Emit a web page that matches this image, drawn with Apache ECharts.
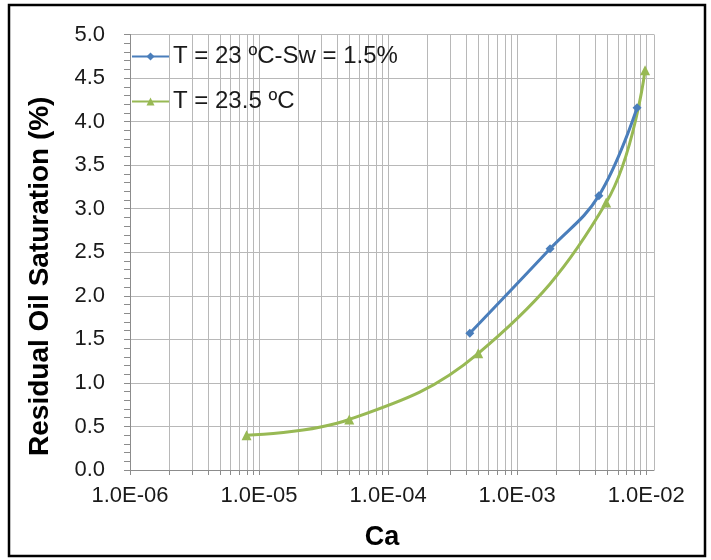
<!DOCTYPE html>
<html>
<head>
<meta charset="utf-8">
<script src="https://cdn.jsdelivr.net/npm/echarts@6/dist/echarts.min.js"></script>
<style>
  html, body { margin: 0; padding: 0; background: #fff; }
  #chart { width: 711px; height: 560px; }
</style>
</head>
<body>
<div id="chart"></div>
<script>
// Residual oil saturation versus capillary number (Ca)
const seriesNames = ['T = 23 \u00baC-Sw = 1.5%', 'T = 23.5 \u00baC'];

const caSw = [4.3e-4, 1.8e-3, 4.3e-3, 8.5e-3];
const sorSw = [1.57, 2.54, 3.15, 4.16];

const ca235 = [8.0e-6, 5.0e-5, 5.0e-4, 4.9e-3, 9.8e-3];
const sor235 = [0.40, 0.58, 1.34, 3.07, 4.59];

const xTickValues = [1e-6, 1e-5, 1e-4, 1e-3, 1e-2];
const xTickLabels = ['1.0E-06', '1.0E-05', '1.0E-04', '1.0E-03', '1.0E-02'];

const FONT = '"Liberation Sans", Arial, sans-serif';
const GRID_COLOR = '#b8b8b8';
const AXIS_COLOR = '#8c8c8c';

// minor log gridlines at 2..9 within each decade
const minorValues = [];
for (let d = 0; d < xTickValues.length - 1; d++) {
  for (let m = 2; m <= 9; m++) minorValues.push([xTickValues[d] * m, 0]);
}

function pairs(xs, ys) { return xs.map((x, i) => [x, ys[i]]); }

function xLabel(v) {
  for (let i = 0; i < xTickValues.length; i++) {
    if (Math.abs(Math.log10(v) - Math.log10(xTickValues[i])) < 1e-6) return xTickLabels[i];
  }
  return '';
}

const chart = echarts.init(document.getElementById('chart'), null, { renderer: 'canvas' });

chart.setOption({
  animation: false,
  backgroundColor: '#ffffff',
  textStyle: { fontFamily: FONT },
  grid: { left: 130, right: 57, top: 34.5, bottom: 90, containLabel: false },
  graphic: [{
    type: 'rect',
    shape: { x: 9, y: 5, width: 696, height: 551 },
    style: { fill: 'none', stroke: '#000', lineWidth: 2.5 },
    silent: true,
    z: 100
  }],
  legend: {
    data: seriesNames,
    orient: 'vertical',
    left: 131,
    top: 44.5,
    itemWidth: 37,
    itemHeight: 10,
    itemGap: 21,
    padding: 0,
    textStyle: { fontFamily: FONT, fontSize: 24, color: '#1a1a1a', padding: [0, 0, 0, -1] }
  },
  xAxis: {
    type: 'log',
    logBase: 10,
    min: 1e-6,
    max: 0.0115,
    interval: 1,
    name: 'Ca',
    nameLocation: 'middle',
    nameGap: 54,
    nameTextStyle: {
      fontFamily: FONT, fontSize: 27, fontWeight: 'bold', color: '#000',
      padding: [0, 20, 0, 0]
    },
    axisLine: { show: true, lineStyle: { color: AXIS_COLOR, width: 1 } },
    axisTick: { show: true, inside: false, length: 5, lineStyle: { color: AXIS_COLOR } },
    axisLabel: {
      formatter: xLabel,
      fontFamily: FONT, fontSize: 22, color: '#1a1a1a', margin: 15,
      showMaxLabel: false
    },
    splitLine: { show: true, lineStyle: { color: GRID_COLOR, width: 1 } }
  },
  yAxis: {
    type: 'value',
    min: 0,
    max: 5,
    interval: 0.5,
    name: 'Residual Oil Saturation (%)',
    nameLocation: 'middle',
    nameGap: 76,
    nameTextStyle: {
      fontFamily: FONT, fontSize: 28, fontWeight: 'bold', color: '#000',
      padding: [0, 48, 0, 0]
    },
    axisLine: { show: true, lineStyle: { color: AXIS_COLOR, width: 1 } },
    axisTick: { show: true, inside: false, length: 6, lineStyle: { color: AXIS_COLOR } },
    minorTick: { show: true, splitNumber: 5, length: 6, lineStyle: { color: AXIS_COLOR } },
    axisLabel: {
      formatter: v => v.toFixed(1),
      fontFamily: FONT, fontSize: 22, color: '#1a1a1a', margin: 25
    },
    splitLine: { show: true, lineStyle: { color: GRID_COLOR, width: 1 } }
  },
  series: [
    {
      name: 'minor-grid',
      type: 'custom',
      silent: true,
      clip: false,
      z: 0,
      data: minorValues,
      encode: { x: 0, y: 1 },
      renderItem: function (params, api) {
        const cs = params.coordSys;
        const x = Math.round(api.coord([api.value(0), 0])[0]) + 0.5;
        return {
          type: 'group',
          children: [
            { type: 'line', shape: { x1: x, y1: cs.y, x2: x, y2: cs.y + cs.height },
              style: { stroke: GRID_COLOR, lineWidth: 1 } },
            { type: 'line', shape: { x1: x, y1: cs.y + cs.height, x2: x, y2: cs.y + cs.height + 5 },
              style: { stroke: AXIS_COLOR, lineWidth: 1 } }
          ]
        };
      }
    },
    {
      name: seriesNames[0],
      type: 'line',
      z: 3,
      data: pairs(caSw, sorSw),
      smooth: 0.4,
      symbol: 'diamond',
      symbolSize: 9,
      color: '#4a7ebb',
      lineStyle: { width: 3, color: '#4a7ebb' },
      itemStyle: { color: '#4a7ebb' }
    },
    {
      name: seriesNames[1],
      type: 'line',
      z: 2,
      data: pairs(ca235, sor235),
      smooth: 0.4,
      symbol: 'triangle',
      symbolSize: 10,
      color: '#98b954',
      lineStyle: { width: 3, color: '#98b954' },
      itemStyle: { color: '#98b954' }
    }
  ]
});
</script>
</body>
</html>
